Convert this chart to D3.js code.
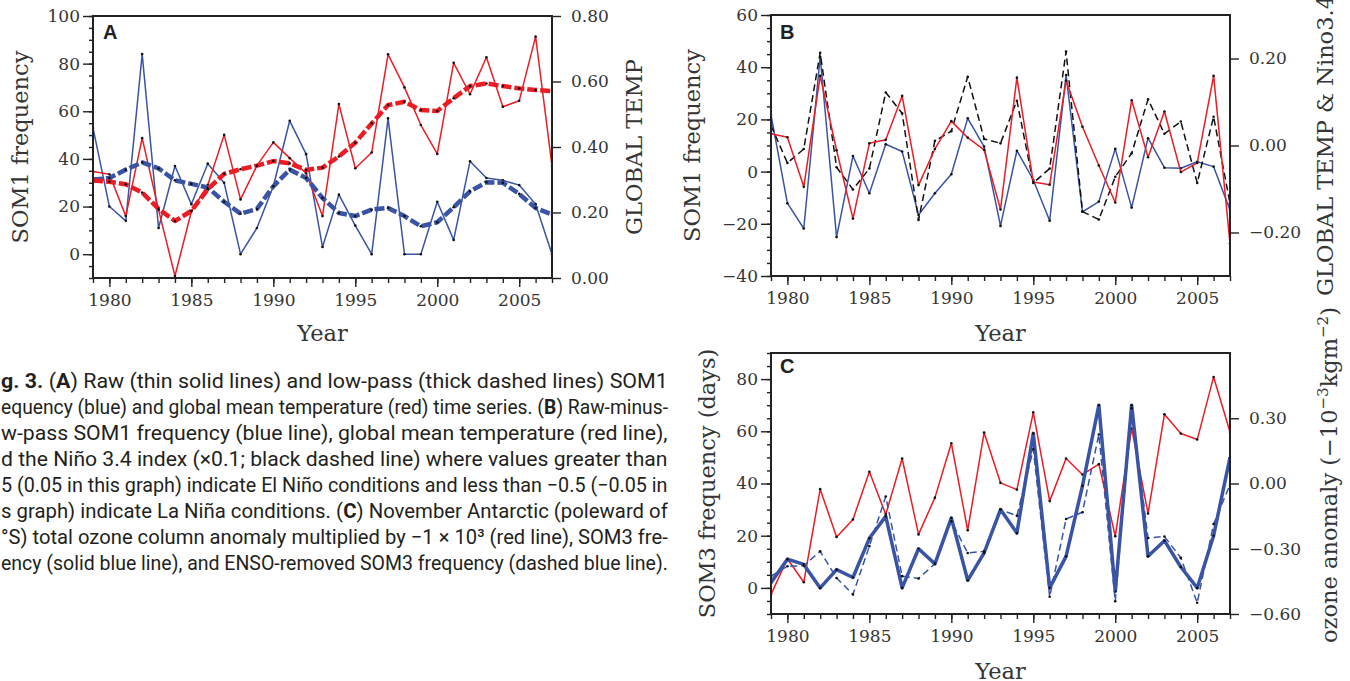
<!DOCTYPE html>
<html>
<head>
<meta charset="utf-8">
<script src="https://cdn.jsdelivr.net/npm/d3@7"></script>
<style>
  html, body { margin: 0; padding: 0; background: #fff; overflow: hidden; }
  svg { display: block; }
  .tick text { font-family: 'DejaVu Serif', serif; font-size: 17px; fill: #353535; }
  .tick line { stroke: #222; stroke-width: 1.4; }
  .domain { display: none; }
  .title { font-family: 'DejaVu Serif', serif; font-size: 22.5px; fill: #353535; }
  .letter { font-family: 'Liberation Sans', Arial, sans-serif; font-weight: bold; font-size: 20px; fill: #222; }
  .caption { font-family: 'Liberation Sans Narrow', 'Roboto', sans-serif; font-size: 20.5px; fill: #231f20; }
</style>
</head>
<body>
<div id="result"></div>
<script>
const width = 1350;
const height = 681;

// x categories (one value per November)
const years = [1979, 1980, 1981, 1982, 1983, 1984, 1985, 1986, 1987, 1988,
               1989, 1990, 1991, 1992, 1993, 1994, 1995, 1996, 1997, 1998,
               1999, 2000, 2001, 2002, 2003, 2004, 2005, 2006, 2007];
const yearTicks = [1980, 1985, 1990, 1995, 2000, 2005];

// Panel A: raw and low-pass SOM1 frequency (left) and global temp (right)
const somRawA = [53, 20, 14, 84, 11, 37, 21, 38, 30, 0, 11, 28.5, 56, 42, 3, 25,
                 12, 0, 57, 0, 0, 22, 6, 39, 32, 31, 29, 21, 0];
const somLowA = [31.3, 32, 35.5, 38.5, 36, 31, 29.5, 28, 22, 17, 19, 28.5, 35.5, 32, 23.6, 17.3,
                 16, 18.7, 19.4, 16, 11.7, 13.4, 19.7, 26.4, 30.2, 30, 25.3, 19.4, 16.6];
const tempRawA = [0.325, 0.317, 0.189, 0.427, 0.208, 0.006, 0.203, 0.284, 0.437, 0.240,
                  0.343, 0.414, 0.366, 0.320, 0.189, 0.531, 0.335, 0.383, 0.683, 0.582,
                  0.467, 0.379, 0.657, 0.561, 0.674, 0.523, 0.541, 0.737, 0.342];
const tempLowA = [0.298, 0.294, 0.286, 0.261, 0.211, 0.174, 0.205, 0.271, 0.318, 0.332,
                  0.343, 0.357, 0.350, 0.330, 0.337, 0.371, 0.413, 0.472, 0.528, 0.538,
                  0.513, 0.510, 0.549, 0.586, 0.594, 0.586, 0.579, 0.574, 0.571];

// Panel B: raw-minus-low-pass SOM1 (left), global temp and Nino3.4 x0.1 (right)
const somB = [21.7, -12.1, -21.8, 44, -25.1, 6, -8.3, 10.5, 7.7, -16.6, -8.3, -1, 20.4, 9.6,
              -20.8, 8, -3.2, -18.8, 37, -15.4, -11.5, 8.7, -13.8, 12.8, 1.5, 1.3, 3.8, 1.9, -14.7];
const tempB = [0.027, 0.019, -0.095, 0.16, -0.011, -0.168, 0.005, 0.013, 0.114, -0.091,
               -0.008, 0.056, 0.018, -0.01, -0.147, 0.156, -0.084, -0.09, 0.149, 0.043,
               -0.046, -0.131, 0.104, -0.027, 0.078, -0.061, -0.04, 0.16, -0.225];
const ninoB = [0.046, -0.040, -0.008, 0.213, -0.050, -0.101, -0.053, 0.122, 0.074, -0.171,
               0.011, 0.033, 0.158, 0.015, 0.005, 0.103, -0.086, -0.053, 0.216, -0.152,
               -0.170, -0.072, -0.018, 0.106, 0.027, 0.055, -0.086, 0.066, -0.133];

// Panel C: ozone anomaly (right), SOM3 frequency and ENSO-removed SOM3 (left)
const ozoneC = [-0.511, -0.346, -0.454, -0.026, -0.246, -0.165, 0.054, -0.142, 0.115, -0.234,
                -0.065, 0.185, -0.215, 0.234, 0.003, -0.028, 0.327, -0.081, 0.115, 0.041,
                0.089, -0.242, 0.253, -0.138, 0.318, 0.23, 0.202, 0.49, 0.237];
const som3C = [2, 11, 9, 0, 7, 4, 19, 27.4, 0, 15, 9.2, 26.8, 2.9, 13.4, 30, 21,
               59.2, 0, 12.1, 39.1, 70, -1.3, 70, 12.1, 18.1, 8, 0, 20, 50];
const som3EnsoC = [4.5, 8.3, 8.5, 14, 3.8, -2.5, 16, 35, 4.5, 3.6, 9.3, 25.5, 13.4, 14, 30, 27.6,
                   53.1, -3.4, 26.4, 29, 58.8, -5.1, 68.8, 19.1, 19.7, 11.5, -5.7, 24.5, 39.5];

const red = '#ec1c24';
const blue = '#3a54a5';

const svg = d3.select('#result')
    .append('svg')
    .attr('width', width)
    .attr('height', height);

// builds the frame, axes and a clipped group for one panel
function makePanel(id, box, leftDomain, leftMajor, leftMinor, rightDomain, rightTicks) {
    const x = d3.scaleLinear().domain([1979, 2007]).range([box.left, box.right]);
    const yL = d3.scaleLinear().domain(leftDomain).range([box.bottom, box.top]);
    const yR = d3.scaleLinear().domain(rightDomain).range([box.bottom, box.top]);
    const g = svg.append('g');

    g.append('g')
        .attr('transform', `translate(0,${box.bottom})`)
        .call(d3.axisBottom(x).tickValues(years).tickSize(5).tickFormat(''));
    g.append('g')
        .attr('transform', `translate(0,${box.bottom})`)
        .call(d3.axisBottom(x).tickValues(yearTicks).tickSize(9).tickPadding(7).tickFormat(d3.format('d')));
    g.append('g')
        .attr('transform', `translate(${box.left},0)`)
        .call(d3.axisLeft(yL).tickValues(leftMinor).tickSize(4).tickFormat(''));
    g.append('g')
        .attr('transform', `translate(${box.left},0)`)
        .call(d3.axisLeft(yL).tickValues(leftMajor).tickSize(10).tickPadding(3).tickFormat(d3.format('d')));
    g.append('g')
        .attr('transform', `translate(${box.right},0)`)
        .call(d3.axisRight(yR).tickValues(rightTicks).tickSize(9).tickPadding(10).tickFormat(d3.format('.2f')));

    svg.append('clipPath').attr('id', id)
        .append('rect')
        .attr('x', box.left).attr('y', box.top)
        .attr('width', box.right - box.left).attr('height', box.bottom - box.top);

    const plot = g.append('g').attr('clip-path', `url(#${id})`);
    return { g, x, yL, yR, plot, box };
}

function frame(p) {
    p.g.append('rect')
        .attr('x', p.box.left).attr('y', p.box.top)
        .attr('width', p.box.right - p.box.left).attr('height', p.box.bottom - p.box.top)
        .attr('fill', 'none')
        .attr('stroke', '#222')
        .attr('stroke-width', 2);
}

// one line with the small black markers at the data points
function series(p, values, y, color, w, dash) {
    const line = d3.line()
        .x((d, i) => p.x(years[i]))
        .y(d => y(d));

    p.plot.append('path')
        .datum(values)
        .attr('fill', 'none')
        .attr('stroke', color)
        .attr('stroke-width', w)
        .attr('stroke-dasharray', dash)
        .attr('stroke-linejoin', 'round')
        .attr('d', line);

    p.plot.append('g')
        .selectAll('circle')
        .data(values)
        .join('circle')
            .attr('cx', (d, i) => p.x(years[i]))
            .attr('cy', d => y(d))
            .attr('r', 1.3)
            .attr('fill', '#111');
}

function title(text, x, y, rotate) {
    return svg.append('text')
        .attr('class', 'title')
        .attr('text-anchor', 'middle')
        .attr('transform', `translate(${x},${y})` + (rotate ? ' rotate(-90)' : ''))
        .text(text);
}

function letter(text, x, y) {
    svg.append('text').attr('class', 'letter').attr('x', x).attr('y', y).text(text);
}

// ---- panel A
const pA = makePanel('clipA', { left: 93, right: 552, top: 16, bottom: 278 },
    [-10, 100], [0, 20, 40, 60, 80, 100], d3.range(-10, 101, 5),
    [0, 0.8], [0, 0.2, 0.4, 0.6, 0.8]);
series(pA, somRawA, pA.yL, blue, 1.5, null);
series(pA, tempRawA, pA.yR, red, 1.5, null);
series(pA, somLowA, pA.yL, blue, 4.5, '10,3');
series(pA, tempLowA, pA.yR, red, 4.5, '10,3');
frame(pA);
letter('A', 103, 39);
title('SOM1 frequency', 28, 147, true);
title('GLOBAL TEMP', 642, 147, true);
title('Year', 322.5, 341, false);

// ---- panel B
const pB = makePanel('clipB', { left: 771, right: 1230, top: 15, bottom: 276 },
    [-40, 60], [-40, -20, 0, 20, 40, 60], d3.range(-40, 61, 5),
    [-0.3, 0.3], [-0.2, 0, 0.2]);
series(pB, somB, pB.yL, blue, 1.5, null);
series(pB, ninoB, pB.yR, '#111', 1.5, '7,4');
series(pB, tempB, pB.yR, red, 1.5, null);
frame(pB);
letter('B', 780, 39);
title('SOM1 frequency', 700, 145.5, true);
title('GLOBAL TEMP & Nino3.4', 1333, 145.5, true);
title('Year', 1000.5, 341, false);

// ---- panel C
const pC = makePanel('clipC', { left: 771, right: 1230, top: 353, bottom: 614 },
    [-10, 90], [0, 20, 40, 60, 80], d3.range(-10, 91, 5),
    [-0.6, 0.6], [-0.6, -0.3, 0, 0.3]);
series(pC, ozoneC, pC.yR, red, 1.5, null);
series(pC, som3C, pC.yL, blue, 3.5, null);
series(pC, som3EnsoC, pC.yL, blue, 1.5, '7,4');
frame(pC);
letter('C', 780, 373);
title('SOM3 frequency (days)', 715, 483.5, true);
title('Year', 1000.5, 679, false);

const oz = title('', 1337, 475, true);
oz.append('tspan').text('ozone anomaly (\u221210');
oz.append('tspan').attr('font-size', '15px').attr('dy', -9).text('\u22123');
oz.append('tspan').attr('dy', 9).text('kgm');
oz.append('tspan').attr('font-size', '15px').attr('dy', -9).text('\u22122');
oz.append('tspan').attr('dy', 9).text(')');

// ---- figure caption (clipped on the left like the source page)
const captionLines = [
    [['g. 3. ', true], ['(', false], ['A', true], [') Raw (thin solid lines) and low-pass (thick dashed lines) SOM1', false]],
    [['equency (blue) and global mean temperature (red) time series. (', false], ['B', true], [') Raw-minus-', false]],
    [['w-pass SOM1 frequency (blue line), global mean temperature (red line),', false]],
    [['d the Niño 3.4 index (\u00d70.1; black dashed line) where values greater than', false]],
    [['5 (0.05 in this graph) indicate El Niño conditions and less than \u22120.5 (\u22120.05 in', false]],
    [['s graph) indicate La Niña conditions. (', false], ['C', true], [') November Antarctic (poleward of', false]],
    [['°S) total ozone column anomaly multiplied by \u22121 \u00d7 10\u00b3 (red line), SOM3 fre-', false]],
    [['ency (solid blue line), and ENSO-removed SOM3 frequency (dashed blue line).', false]]
];

// each line is laid out at natural width, then squeezed to the column width
const captionLeft = 1;
const captionWidth = 667;
captionLines.forEach((segs, i) => {
    const lineG = svg.append('g');
    const parts = segs.map(([s, b]) => lineG.append('text')
        .attr('class', 'caption')
        .attr('y', 0)
        .attr('font-weight', b ? 'bold' : 'normal')
        .style('white-space', 'pre')
        .text(s));
    const widths = parts.map(t => t.node().getComputedTextLength());
    let cx = 0;
    parts.forEach((t, j) => {
        t.attr('x', cx);
        cx += widths[j];
    });
    const k = captionWidth / cx;
    lineG.attr('transform', `translate(${captionLeft},${388 + i * 26}) scale(${k},1)`);
});
</script>
</body>
</html>
